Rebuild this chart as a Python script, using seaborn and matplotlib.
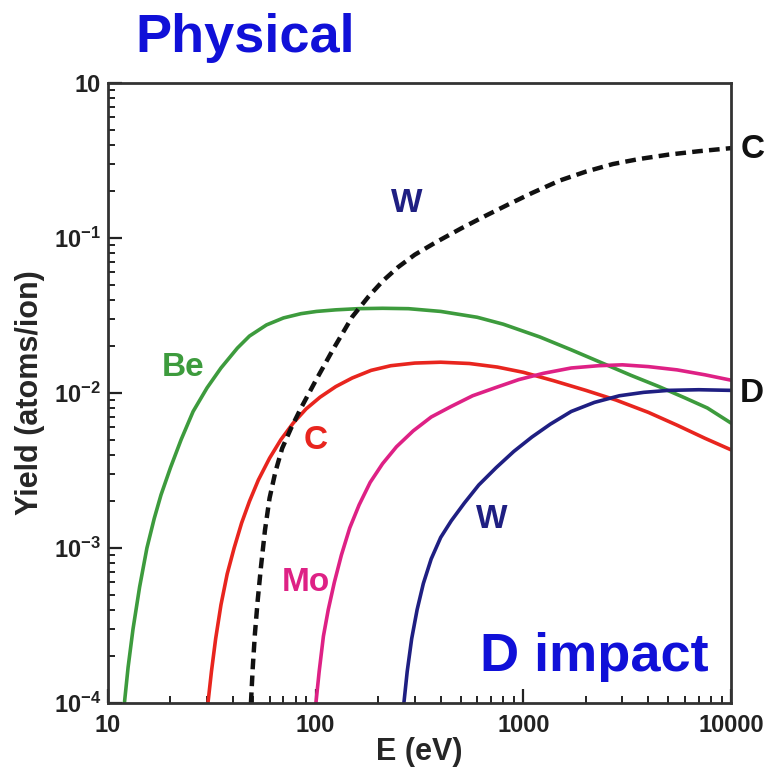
import matplotlib
matplotlib.use("Agg")
import matplotlib.pyplot as plt
import seaborn as sns
import pandas as pd
import numpy as np
from matplotlib.ticker import LogLocator, NullFormatter

# ---------------- data ----------------
be_E = [12.0, 12.5, 13.2, 14.2, 15.4, 16.7, 18, 20, 22.5, 25.7, 30, 35, 42, 48, 58, 70, 85, 101, 125,
        160, 210, 280, 400, 600, 800, 1200, 1700, 2400, 3300, 4500, 6000, 7700, 10000]
be_Y = [1.0e-4, 1.7e-4, 3.0e-4, 5.6e-4, 1.0e-3, 1.55e-3, 2.2e-3, 3.3e-3, 5.0e-3, 7.6e-3, 1.08e-2, 1.45e-2,
        1.95e-2, 2.33e-2, 2.75e-2, 3.05e-2, 3.25e-2, 3.36e-2, 3.44e-2, 3.5e-2, 3.52e-2, 3.5e-2, 3.36e-2,
        3.08e-2, 2.78e-2, 2.3e-2, 1.9e-2, 1.56e-2, 1.3e-2, 1.1e-2, 9.3e-3, 8.0e-3, 6.4e-3]

c_E = [30.3, 31.5, 33, 35, 37.5, 40.5, 44, 48, 53, 60, 68, 78, 90, 105, 125, 150, 185, 230, 300, 400,
       550, 750, 1000, 1400, 2000, 2800, 4000, 5500, 7500, 10000]
c_Y = [1.0e-4, 1.6e-4, 2.6e-4, 4.3e-4, 6.8e-4, 1.0e-3, 1.45e-3, 2.0e-3, 2.75e-3, 3.8e-3, 5.0e-3, 6.4e-3,
       7.9e-3, 9.4e-3, 1.1e-2, 1.25e-2, 1.4e-2, 1.5e-2, 1.56e-2, 1.58e-2, 1.55e-2, 1.47e-2, 1.36e-2,
       1.2e-2, 1.04e-2, 9.0e-3, 7.5e-3, 6.2e-3, 5.1e-3, 4.3e-3]

mo_E = [100.3, 104, 109, 115, 123, 133, 146, 162, 183, 210, 245, 295, 360, 450, 570, 730, 950, 1250,
        1700, 2300, 3000, 4000, 5500, 7500, 10000]
mo_Y = [1.0e-4, 1.6e-4, 2.7e-4, 4.0e-4, 6.0e-4, 9.0e-4, 1.35e-3, 1.9e-3, 2.65e-3, 3.5e-3, 4.5e-3, 5.7e-3,
        7.0e-3, 8.2e-3, 9.6e-3, 1.08e-2, 1.22e-2, 1.34e-2, 1.45e-2, 1.5e-2, 1.52e-2, 1.48e-2, 1.41e-2,
        1.31e-2, 1.21e-2]

w_E = [266, 276, 290, 308, 330, 360, 400, 450, 520, 610, 740, 900, 1100, 1350, 1700, 2200, 2900, 3800,
       5000, 7000, 10000]
w_Y = [1.0e-4, 1.6e-4, 2.6e-4, 4.0e-4, 5.9e-4, 8.5e-4, 1.17e-3, 1.5e-3, 1.95e-3, 2.55e-3, 3.3e-3, 4.2e-3,
       5.2e-3, 6.3e-3, 7.6e-3, 8.7e-3, 9.6e-3, 1.01e-2, 1.04e-2, 1.05e-2, 1.04e-2]

cc_E = [48.8, 49.8, 51, 52.6, 54.5, 57, 60, 64, 69, 76, 85, 100, 121, 150, 180, 211, 250, 300, 380, 500,
        650, 850, 1100, 1500, 2000, 2700, 3600, 5000, 7000, 10000]
cc_Y = [1.0e-4, 1.7e-4, 2.8e-4, 4.6e-4, 7.5e-4, 1.3e-3, 2.1e-3, 3.1e-3, 4.4e-3, 5.9e-3, 8.0e-3, 1.2e-2,
        1.9e-2, 3.1e-2, 4.2e-2, 5.3e-2, 6.5e-2, 7.8e-2, 9.4e-2, 0.115, 0.138, 0.165, 0.195, 0.235, 0.268,
        0.300, 0.323, 0.345, 0.363, 0.38]

x_ticks = [10, 100, 1000, 10000]
x_ticklabels = ["10", "100", "1000", "10000"]
y_ticks = [1e-4, 1e-3, 1e-2, 1e-1, 1]
y_ticklabels = [r"$10^{-4}$", r"$10^{-3}$", r"$10^{-2}$", r"$10^{-1}$", "10"]

# ---------------- style ----------------
sns.set_style("white")
plt.rcParams["font.family"] = ["Liberation Sans", "DejaVu Sans"]
plt.rcParams["font.weight"] = "bold"
plt.rcParams["mathtext.fontset"] = "custom"
plt.rcParams["mathtext.rm"] = "Liberation Sans:bold"
plt.rcParams["mathtext.bf"] = "Liberation Sans:bold"
plt.rcParams["mathtext.it"] = "Liberation Sans:bold"
plt.rcParams["mathtext.default"] = "bf"

green = "#3d9b3d"
red = "#e8251e"
magenta = "#de2185"
navy = "#1f1f82"
blue = "#1010d8"

fig = plt.figure(figsize=(7.69, 7.67), dpi=100)
ax = fig.add_axes([0.1404, 0.0834, 0.8102, 0.8084])

series = [
    (be_E, be_Y, green),
    (c_E, c_Y, red),
    (mo_E, mo_Y, magenta),
    (w_E, w_Y, navy),
]
for E, Y, col in series:
    df = pd.DataFrame({"E": E, "Y": Y})
    sns.lineplot(data=df, x="E", y="Y", ax=ax, color=col, lw=2.6, sort=False)

dfc = pd.DataFrame({"E": cc_E, "Y": cc_Y})
sns.lineplot(data=dfc, x="E", y="Y", ax=ax, color="#111111", lw=3.2, sort=False,
             linestyle=(0, (2.4, 1.4)))

ax.set_xscale("log")
ax.set_yscale("log")
ax.set_xlim(10, 10000)
ax.set_ylim(1e-4, 1)

ax.set_xticks(x_ticks)
ax.set_xticklabels(x_ticklabels)
ax.set_yticks(y_ticks)
ax.set_yticklabels(y_ticklabels)
ax.xaxis.set_minor_locator(LogLocator(base=10, subs=np.arange(2, 10)))
ax.yaxis.set_minor_locator(LogLocator(base=10, subs=np.arange(2, 10)))
ax.xaxis.set_minor_formatter(NullFormatter())
ax.yaxis.set_minor_formatter(NullFormatter())
ax.tick_params(axis="both", which="both", left=True, bottom=True, top=False, right=False)
ax.tick_params(axis="both", which="major", direction="in", length=10, width=1.6,
               labelsize=17, colors="#222222")
ax.tick_params(axis="both", which="minor", direction="in", length=5, width=1.4, colors="#222222")
ax.tick_params(axis="x", which="major", pad=8)
ax.tick_params(axis="y", which="major", pad=5)
for lab in ax.get_xticklabels() + ax.get_yticklabels():
    lab.set_fontweight("bold")

for s in ax.spines.values():
    s.set_visible(True)
    s.set_linewidth(2.0)
    s.set_color("#333333")

ax.set_xlabel("E (eV)", fontsize=22, fontweight="bold", labelpad=0)
ax.set_ylabel("Yield (atoms/ion)", fontsize=22, fontweight="bold", labelpad=6)

# annotations
fs = 24
ax.text(22.96, 0.0147, "Be", color=green, fontsize=fs, fontweight="bold", ha="center", va="center")
ax.text(100.3, 0.00497, "C", color=red, fontsize=fs, fontweight="bold", ha="center", va="center")
ax.text(89.8, 6.0e-4, "Mo", color=magenta, fontsize=fs, fontweight="bold", ha="center", va="center")
ax.text(706, 1.52e-3, "W", color=navy, fontsize=fs, fontweight="bold", ha="center", va="center")
ax.text(275, 0.168, "W", color=navy, fontsize=fs, fontweight="bold", ha="center", va="center")
ax.text(1.034, 0.37, "C", color="#111111", fontsize=fs, fontweight="bold", ha="center", va="center",
        transform=ax.get_yaxis_transform())
ax.text(1.034, 0.0100, "D", color="#111111", fontsize=fs, fontweight="bold", ha="center", va="center",
        transform=ax.get_yaxis_transform())
ax.text(0.780, 0.074, "D impact", color=blue, fontsize=39, fontweight="bold", ha="center", va="center",
        transform=ax.transAxes)
fig.text(0.319, 0.950, "Physical", color=blue, fontsize=39, fontweight="bold", ha="center", va="center")

fig.savefig("out.png", dpi=100)
